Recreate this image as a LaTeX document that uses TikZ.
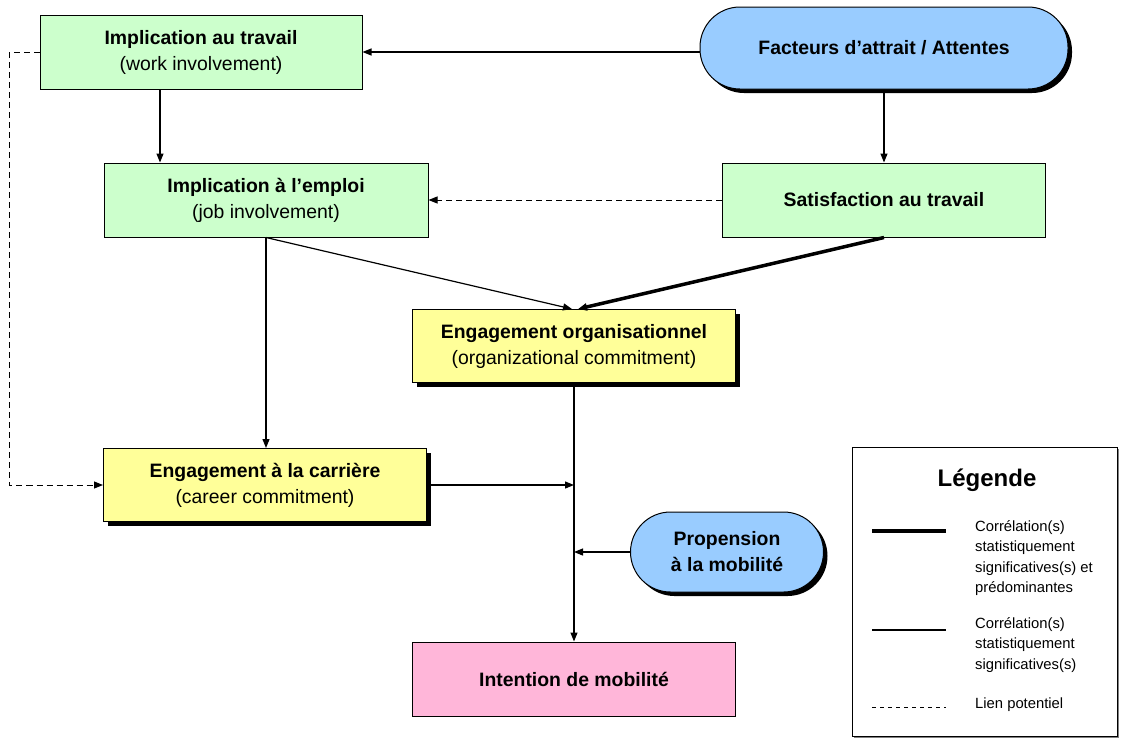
\documentclass[tikz,border=0pt]{standalone}
\usepackage{fontspec}
\setmainfont{Liberation Sans}
\usetikzlibrary{arrows.meta,shadows}
\definecolor{vert}{HTML}{CCFFCC}
\definecolor{jaune}{HTML}{FFFF99}
\definecolor{bleu}{HTML}{99CCFF}
\definecolor{rose}{HTML}{FFB6D9}
\newcommand{\grand}{\fontsize{19.4}{26}\selectfont}
\newcommand{\petit}{\fontsize{14.8}{20.6}\selectfont}
\tikzset{
  ombre/.style={drop shadow={shadow xshift=4pt, shadow yshift=-4pt, fill=black, opacity=1}},
  boite/.style={draw, line width=1pt, minimum width=323pt, minimum height=74pt, inner sep=0pt, align=center, font=\grand},
  capsule/.style={draw, line width=1pt, rounded corners=40pt, fill=bleu, ombre, inner sep=0pt, align=center, font=\grand\bfseries},
  lien/.style={line width=1.2pt, -{Triangle[length=9pt,width=7pt]}},
  fort/.style={lien, line width=3.5pt},
  potentiel/.style={lien, line width=1pt, dash pattern=on 6pt off 4pt}
}
\begin{document}
\begin{tikzpicture}[x=1pt, y=-1pt]
\useasboundingbox (0,0) rectangle (1124,740);
\node[boite, fill=vert, minimum width=322pt] (IT) at (201,52) {\textbf{Implication au travail}\\(work involvement)};
\node[capsule, minimum width=368pt, minimum height=82pt] (FA) at (884,48) {Facteurs d’attrait / Attentes};
\node[boite, fill=vert, minimum width=324pt] (IE) at (266,200) {\textbf{Implication à l’emploi}\\(job involvement)};
\node[boite, fill=vert] (ST) at (884,200) {\textbf{Satisfaction au travail}};
\node[boite, fill=jaune, ombre, minimum height=73pt] (EO) at (574,346) {\textbf{Engagement organisationnel}\\(organizational commitment)};
\node[boite, fill=jaune, ombre, minimum height=73pt] (EC) at (265,485) {\textbf{Engagement à la carrière}\\(career commitment)};
\node[capsule, minimum width=193pt, minimum height=80pt] (PM) at (727,552) {Propension\\à la mobilité};
\node[boite, fill=rose] (IM) at (574,679) {\textbf{Intention de mobilité}};
\coordinate (J1) at (EO.south |- EC.east);
\coordinate (J2) at (EO.south |- PM.west);
\draw[lien] (IT.east -| FA.west) -- (IT.east);
\draw[lien] (FA.south) -- (ST.north);
\draw[lien] ([xshift=-41pt]IT.south) -- ([xshift=-41pt]IT.south |- IE.north);
\draw[potentiel] (ST.west) -- (IE.east);
\draw[lien] (IE.south) -- ([xshift=-2pt]EO.north);
\draw[fort] (ST.south) -- ([xshift=4pt]EO.north);
\draw[lien] (IE.south) -- (IE.south |- EC.north);
\draw[potentiel] (IT.west) -- ++(-30,0) |- (EC.west);
\draw[lien] (EC.east) -- (J1);
\draw[lien] (PM.west) -- (J2);
\draw[lien] (EO.south) -- (IM.north);
% legende
\node[draw, line width=0.8pt, minimum width=265pt, minimum height=289pt, drop shadow={shadow xshift=2pt, shadow yshift=-2pt, fill=gray, opacity=1}, fill=white] (LG) at (984.5,591.5) {};
\node[font=\fontsize{24}{28}\selectfont\bfseries] (LT) at (987,480) {Légende};
\coordinate (L1) at (872,531);
\coordinate (L2) at (872,630);
\coordinate (L3) at (872,707);
\draw[line width=3.5pt] (L1) -- ++(74,0);
\draw[line width=1.2pt] (L2) -- ++(74,0);
\draw[line width=1pt, dash pattern=on 4pt off 4pt] (L3) -- ++(74,0);
\node[anchor=west, align=left, font=\petit, inner sep=0pt] (T1) at (975,558) {Corrélation(s)\\statistiquement\\significatives(s) et\\prédominantes};
\node[anchor=west, align=left, font=\petit, inner sep=0pt] (T2) at (975,645) {Corrélation(s)\\statistiquement\\significatives(s)};
\node[anchor=west, align=left, font=\petit, inner sep=0pt] (T3) at (975,705) {Lien potentiel};
\end{tikzpicture}
\end{document}
